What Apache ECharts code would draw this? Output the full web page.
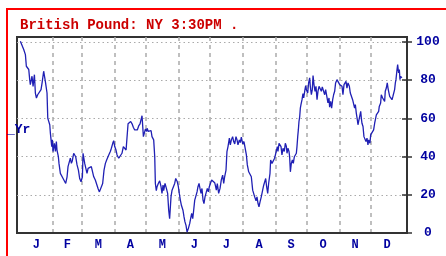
<!DOCTYPE html>
<html>
<head>
<meta charset="utf-8">
<script src="https://cdn.jsdelivr.net/npm/echarts@6/dist/echarts.min.js"></script>
<style>html,body{margin:0;padding:0;background:#fff;}#c{width:446px;height:256px;}</style>
</head>
<body>
<div id="c"></div>
<script>
// x = day of year (0 = Jan 1)
const monthLetters = ['J','F','M','A','M','J','J','A','S','O','N','D'];
const monthStarts = [31,59,90,120,151,181,212,243,273,304,334];
const monthMids = [15.5,45,74.5,105,135.5,166,196.5,227.5,258,288.5,319,349.5];
const yTicks = [0,20,40,60,80,100];

const days = [
0.2,3.4,5.0,5.9,8.2,9.1,9.7,11.3,12.3,13.6,14.5,15.5,16.7,18.6,19.9,20.9,22.4,23.1,24.0,25.0,25.6,26.3,27.5,28.2,28.8,30.1,30.7,31.3,32.6,33.6,34.5,35.1,36.4,37.0,38.3,39.6,40.9,42.1,43.4,44.7,45.6,46.9,47.8,48.8,49.7,51.0,52.0,52.9,54.2,55.5,56.7,58.0,59.3,
59.9,61.5,62.8,63.7,64.7,65.9,67.8,69.1,70.1,71.6,73.2,74.2,75.5,76.4,77.4,78.6,79.9,81.2,82.4,83.4,84.4,85.9,86.9,88.2,89.1,90.1,91.3,92.3,93.9,94.8,95.8,97.0,98.3,99.6,100.9,101.5,102.1,102.8,104.0,105.3,106.6,107.8,109.1,110.4,111.6,112.9,114.2,115.5,116.1,117.4,118.0,119.3,120.5,
120.9,122.1,123.4,124.7,125.6,126.6,127.2,128.2,128.8,129.7,130.4,131.6,132.9,134.2,135.1,136.1,136.7,138.0,139.3,140.5,141.5,142.4,143.1,143.7,144.7,145.9,147.2,148.2,149.1,149.7,150.7,151.6,152.6,153.6,154.5,155.1,156.1,157.0,158.0,159.0,160.2,161.5,162.4,163.4,164.4,165.3,166.3,167.2,168.5,169.4,170.4,171.3,172.3,173.2,174.2,175.1,176.1,177.0,178.3,179.3,180.2,181.2,182.4,
182.8,184.0,185.3,185.9,186.9,187.8,189.1,190.4,191.6,192.9,193.9,194.8,196.1,197.0,198.0,199.3,200.2,201.2,202.4,203.4,204.4,205.6,206.6,207.5,208.8,209.7,210.7,212.0,213.2,214.5,215.5,216.4,217.7,219.0,220.2,221.5,222.4,223.4,224.7,225.6,226.6,227.5,228.5,229.7,231.0,232.0,232.9,233.9,234.8,235.8,236.7,238.0,238.6,239.9,241.2,242.4,243.7,245.0,
245.6,246.6,248.5,249.4,250.4,251.6,252.6,253.6,254.2,255.1,256.1,256.7,257.4,258.3,259.3,260.2,261.2,262.1,263.1,263.7,264.4,265.0,265.6,266.3,266.9,267.5,268.5,269.4,270.1,271.3,272.0,272.6,273.9,274.8,275.8,276.4,277.4,278.3,279.0,279.9,280.9,281.8,282.8,283.7,284.7,285.9,286.9,287.8,289.1,290.1,291.0,292.3,293.2,294.2,294.8,295.8,296.7,297.7,298.6,299.6,300.5,301.8,303.1,304.4,305.6,
306.6,307.5,308.5,309.1,310.4,311.3,312.3,313.6,314.5,315.5,316.7,317.7,318.6,319.3,320.2,321.2,321.8,322.4,323.4,324.4,325.0,325.6,326.6,327.5,328.8,329.4,330.4,331.3,332.0,333.2,333.9,335.1,335.8,336.7,337.7,338.3,339.3,340.2,341.5,342.1,343.4,344.0,345.3,346.6,347.2,347.8,348.8,349.7,350.4,351.0,352.0,352.9,354.2,355.1,356.1,356.7,357.4,358.0,359.0,359.6,360.5,361.2,361.8,362.4,363.7
];
const values = [
100.3,96.0,93.3,87.2,85.5,80.2,77.6,82.0,76.7,82.8,73.2,70.6,72.3,73.2,75.0,78.5,84.6,83.7,79.3,80.2,73.2,60.1,59.2,56.6,52.2,45.2,48.7,42.6,46.9,42.6,47.8,43.4,39.9,36.4,31.2,32.0,28.5,27.7,25.9,29.4,34.7,37.3,39.1,36.4,37.8,41.7,42.6,39.9,35.6,32.9,28.5,26.8,29.4,
41.7,36.4,35.6,31.2,33.8,32.9,34.7,33.8,29.4,27.7,28.5,23.3,21.5,20.7,22.4,25.9,32.9,36.4,38.2,37.3,40.8,42.6,44.3,46.9,48.3,45.2,43.4,40.8,39.1,39.9,38.2,41.7,45.2,46.1,43.4,42.6,52.2,57.1,57.8,58.3,57.1,55.3,53.9,54.8,53.9,56.0,57.1,60.1,61.3,50.4,49.6,54.3,53.1,
54.8,53.1,52.2,53.6,50.4,51.3,48.7,39.9,25.9,22.1,24.2,25.9,27.3,24.2,20.7,25.0,22.1,25.9,23.3,20.7,11.9,7.5,6.7,18.9,22.4,23.3,25.9,28.5,29.4,26.8,24.2,20.7,17.2,14.5,15.4,11.9,8.4,5.8,4.0,0.5,2.3,4.9,7.5,10.2,7.5,11.9,17.2,18.9,21.5,24.2,25.9,23.3,20.7,23.3,17.2,15.4,18.9,20.7,23.3,21.5,24.2,25.9,27.7,
28.5,27.7,26.3,25.0,22.4,25.9,20.7,23.3,27.7,30.3,25.9,29.4,32.9,42.6,45.2,49.6,46.1,48.7,50.4,47.8,46.6,50.4,48.7,46.1,48.7,47.3,50.1,46.6,47.8,48.7,40.8,35.6,32.0,31.2,29.4,22.4,21.5,18.9,16.8,18.9,15.4,13.7,16.3,18.9,22.4,25.0,25.9,28.5,24.2,20.7,25.9,31.2,38.2,36.4,37.3,39.1,38.2,45.2,
42.6,46.9,45.2,40.8,44.3,42.6,46.9,45.2,41.7,44.3,42.6,39.9,32.0,36.4,38.2,36.4,39.9,40.8,41.7,45.2,50.4,53.9,58.3,60.9,65.3,67.1,69.7,72.9,70.6,75.0,77.1,75.0,73.2,78.5,81.1,76.7,72.3,75.0,82.3,77.6,74.1,76.7,69.7,74.1,76.7,77.6,74.1,76.4,76.7,72.3,75.0,74.1,68.0,70.6,65.8,68.8,65.3,69.7,72.3,74.1,78.5,80.2,79.3,77.6,78.5,
76.7,72.3,77.6,76.7,79.3,75.8,78.5,76.7,73.2,72.3,69.7,70.6,65.3,67.1,62.7,59.2,56.6,58.3,60.9,63.6,60.1,57.4,55.7,50.4,51.3,47.8,49.6,46.1,48.7,46.9,51.3,52.2,50.4,53.9,57.4,58.3,61.8,60.9,63.6,66.2,68.0,72.3,70.6,71.5,68.8,74.1,75.8,78.5,75.8,74.1,71.5,72.3,69.7,71.5,72.3,75.0,78.5,80.2,85.5,88.1,83.7,85.5,80.2,81.9,81.1
];

const titleText = 'British Pound: NY 3:30PM .';
const sideText = '_Yr';

const chart = echarts.init(document.getElementById('c'), null, {renderer: 'canvas'});
const blue = '#0000a0';
const font = 'Liberation Mono';
chart.setOption({
  animation: false,
  backgroundColor: '#ffffff',
  title: {
    text: titleText, left: 15, top: 13,
    textStyle: {color: '#cc0000', fontFamily: font, fontWeight: 'bold', fontSize: 14}
  },
  graphic: [
    {type: 'rect', shape: {x: 7, y: 9, width: 600, height: 400}, style: {fill: null, stroke: '#ff0000', lineWidth: 2}, silent: true, z: 100},
    {type: 'text', left: 7, top: 123, style: {text: sideText, fill: blue, font: 'bold 13px "Liberation Mono"'}, z: 100}
  ],
  grid: {left: 17, right: 39, top: 37, bottom: 23, show: true, borderColor: '#333', borderWidth: 2},
  xAxis: {
    type: 'value', min: -3, max: 368.5,
    axisLine: {show: true, onZero: false, lineStyle: {color: '#333', width: 2}},
    axisTick: {show: false, customValues: monthStarts},
    splitLine: {show: true, lineStyle: {color: '#aaaaaa', type: [4, 4], width: 1.5}},
    axisLabel: {
      customValues: monthMids,
      formatter: v => monthLetters[monthMids.indexOf(v)] || '',
      color: blue, fontFamily: font, fontWeight: 'bold', fontSize: 12, margin: 6
    }
  },
  yAxis: [{
    type: 'value', position: 'right', min: 0, max: 102.5,
    axisLine: {show: true, onZero: false, lineStyle: {color: '#333', width: 2}},
    axisTick: {show: true, length: 5, customValues: yTicks, lineStyle: {color: '#333', width: 1.5}},
    splitLine: {show: true, lineStyle: {color: '#aaaaaa', type: [1.5, 3], width: 1}},
    axisLabel: {customValues: yTicks, color: blue, fontFamily: font, fontWeight: 'bold', fontSize: 13, align: 'center', margin: 21}
  }, {
    type: 'value', position: 'left', offset: -390, min: 0, max: 102.5,
    axisLine: {show: false, onZero: false},
    axisTick: {show: true, inside: false, length: 5, customValues: yTicks, lineStyle: {color: '#333', width: 1.5}},
    splitLine: {show: false},
    axisLabel: {show: false}
  }],
  series: [{
    type: 'line', yAxisIndex: 0, showSymbol: false, silent: true,
    lineStyle: {color: '#2020b4', width: 1.3},
    data: days.map((d, i) => [d, values[i]])
  }]
});
</script>
</body>
</html>
